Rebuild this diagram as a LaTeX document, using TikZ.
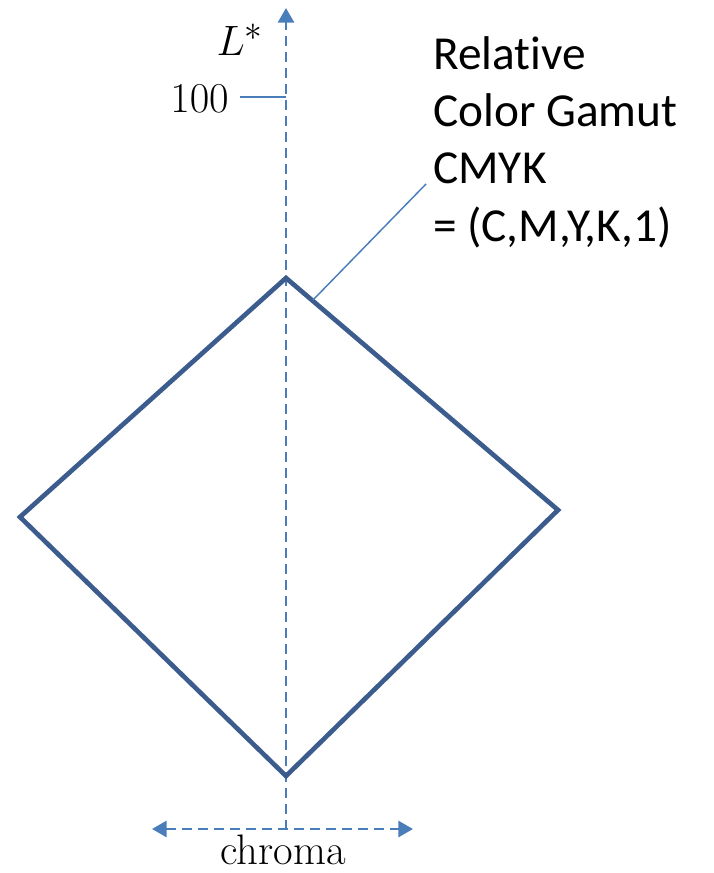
\documentclass[tikz,border=0pt]{standalone}
\usepackage{fontspec}
\newfontfamily\calib[Ligatures={NoCommon}]{Carlito}
\usetikzlibrary{arrows.meta}
\definecolor{axisblue}{RGB}{74,126,187}
\definecolor{gamutblue}{RGB}{59,92,140}
\tikzset{
  axis/.style={draw=axisblue, line width=2.2pt, dash pattern=on 7.5pt off 4.5pt, -{Triangle[length=11pt,width=12pt]}},
  axis2/.style={draw=axisblue, line width=2.2pt, dash pattern=on 7.5pt off 4.5pt, {Triangle[length=11pt,width=12pt]}-{Triangle[length=11pt,width=12pt]}},
  thinline/.style={draw=axisblue, line width=1.1pt},
  gamut/.style={draw=gamutblue, line width=3.5pt, line join=miter},
  serif/.style={inner sep=0pt, font=\fontsize{24.88}{30}\selectfont},
}
\begin{document}
\begin{tikzpicture}[x=0.75pt,y=-0.75pt]
\useasboundingbox (0,0) rectangle (713,873);
% axes
\coordinate (vb) at (286,830);
\coordinate (vt) at (286,8);
\coordinate (hl) at (152,829);
\coordinate (hr) at (413,829);
\draw[axis] (vb) -- (vt);
\draw[axis2] (hl) -- (hr);
% gamut diamond
\coordinate (top) at (286,278);
\coordinate (right) at (558,510);
\coordinate (bot) at (286,776);
\coordinate (left) at (20,517);
\draw[gamut] (top) -- (right) -- (bot) -- (left) -- cycle;
% labels
\node[serif] (Lstar) at (240,40) {\scalebox{1.28}{$L^*$}};
\node[serif, anchor=east] (hundred) at (229,99) {\scalebox{1.28}{$100$}};
\coordinate (tick) at (286,97);
\coordinate (tickstart) at (240,97);
\draw[thinline] (tickstart) -- (tick);
\node[inner sep=0pt, font=\fontsize{32}{36}\selectfont] (chroma) at (283,850) {chroma};
\node[inner sep=0pt, anchor=north west, align=left, font=\calib\fontsize{35.5}{43}\selectfont] (lbl) at (433,36)
  {Relative\\Color Gamut\\CMYK\\= (C,M,Y,K,1)};
\coordinate (p) at (313,300);
\coordinate (q) at (426,184);
\draw[thinline] (p) -- (q);
\end{tikzpicture}
\end{document}
